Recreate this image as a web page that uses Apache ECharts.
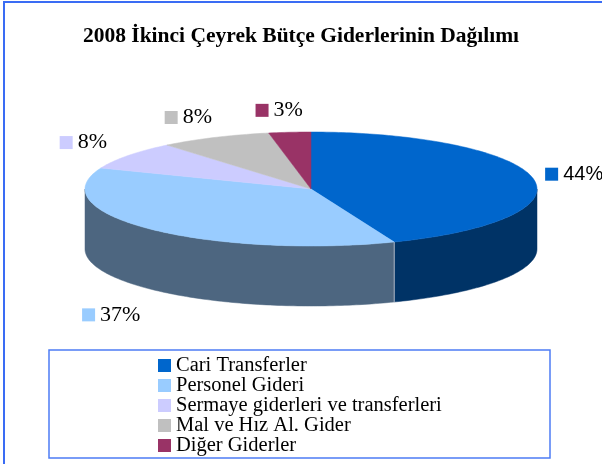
<!DOCTYPE html>
<html>
<head>
<meta charset="utf-8">
<style>
  html, body { margin: 0; padding: 0; background: #fff; }
  #chart { width: 602px; height: 464px; }
</style>
<script src="https://cdn.jsdelivr.net/npm/echarts@6/dist/echarts.min.js"></script>
</head>
<body>
<div id="chart"></div>
<script>
const categories = ['Cari Transferler', 'Personel Gideri', 'Sermaye giderleri ve transferleri', 'Mal ve Hız Al. Gider', 'Diğer Giderler'];
const percents = [44, 37, 8, 8, 3];
const colors = ['#0066CC', '#99CCFF', '#CCCCFF', '#C0C0C0', '#993366'];
const labelFonts = ['Liberation Sans', 'Liberation Serif', 'Liberation Serif', 'Liberation Serif', 'Liberation Serif'];
const labelSizes = [20, 22, 22, 22, 22];

// 3d pie geometry (pixels)
const cx = 311, cy = 189, rx = 226, ry = 57, depth = 60;
const total = percents.reduce((a, b) => a + b, 0);

function rim(a, dy) {
  const r = a * Math.PI / 180;
  return [cx + rx * Math.sin(r), cy - ry * Math.cos(r) + (dy || 0)];
}

function arc(a0, a1, dy) {
  const pts = [];
  for (let a = a0; a < a1; a += 1) pts.push(rim(a, dy));
  pts.push(rim(a1, dy));
  return pts;
}

function darker(hex) {
  const n = parseInt(hex.slice(1), 16);
  const r = ((n >> 16) & 255) * 0.5, g = ((n >> 8) & 255) * 0.5, b = (n & 255) * 0.5;
  return 'rgb(' + Math.round(r) + ',' + Math.round(g) + ',' + Math.round(b) + ')';
}

function renderSlice(params, api) {
  const i = params.dataIndex;
  const v = api.value(0);
  let before = 0;
  for (let k = 0; k < i; k++) before += percents[k];
  const a0 = before / total * 360;
  const a1 = (before + v) / total * 360;
  const children = [];

  // front wall
  const b0 = Math.max(a0, 90), b1 = Math.min(a1, 270);
  if (b1 > b0) {
    const pts = arc(b0, b1, 0).concat(arc(b0, b1, depth).reverse());
    children.push({
      type: 'polygon',
      shape: { points: pts },
      style: { fill: darker(colors[i]), stroke: darker(colors[i]), lineWidth: 0.5 }
    });
    if (b0 > 90) {
      const p = rim(b0, 0);
      children.push({
        type: 'line',
        shape: { x1: p[0], y1: p[1], x2: p[0], y2: p[1] + depth },
        style: { stroke: '#A9B2C2', lineWidth: 1 }
      });
    }
  }

  // top face
  children.push({
    type: 'polygon',
    shape: { points: [[cx, cy]].concat(arc(a0, a1, 0)) },
    style: { fill: colors[i], stroke: colors[i], lineWidth: 0.5 }
  });

  // label
  const m = (a0 + a1) / 2 * Math.PI / 180;
  const s = Math.sin(m), c = Math.cos(m);
  const lx = cx + s * (rx + 48) - 6;
  let ly = cy - c * (ry + 22);
  if (c < 0) ly += depth + 10;
  children.push({
    type: 'text',
    style: {
      x: lx, y: ly, align: 'center', verticalAlign: 'middle',
      text: '{m| }{t|' + v + '%}',
      rich: {
        m: { width: 13, height: 13, backgroundColor: colors[i] },
        t: { fontSize: labelSizes[i], fontFamily: labelFonts[i], fill: '#000', padding: [0, 0, 0, 5] }
      }
    }
  });

  return { type: 'group', children: children };
}

const chart = echarts.init(document.getElementById('chart'));
chart.setOption({
  animation: false,
  color: colors,
  title: {
    text: '2008 İkinci Çeyrek Bütçe Giderlerinin Dağılımı',
    left: 'center',
    top: 20,
    textStyle: { fontFamily: 'Liberation Serif', fontSize: 21.5, fontWeight: 'bold', color: '#000' }
  },
  legend: {
    orient: 'vertical',
    left: 158,
    top: 355,
    height: 300,
    padding: 0,
    icon: 'rect',
    itemWidth: 13,
    itemHeight: 13,
    itemGap: -1,
    selectedMode: false,
    data: categories,
    textStyle: { fontFamily: 'Liberation Serif', fontSize: 20.5, color: '#000' }
  },
  graphic: [
    { type: 'rect', shape: { x: 4, y: 2, width: 700, height: 600 }, style: { fill: 'none', stroke: '#3A6CF4', lineWidth: 2 } },
    { type: 'rect', shape: { x: 49, y: 350, width: 501, height: 108 }, style: { fill: 'none', stroke: '#4D7CF5', lineWidth: 1.5 } }
  ],
  series: [
    {
      type: 'custom',
      coordinateSystem: 'none',
      data: percents,
      renderItem: renderSlice
    },
    {
      // only feeds the legend
      type: 'pie',
      silent: true,
      center: [-60, -60],
      radius: 5,
      label: { show: false },
      labelLine: { show: false },
      data: categories.map((name, i) => ({ name: name, value: percents[i] }))
    }
  ]
});
</script>
</body>
</html>
